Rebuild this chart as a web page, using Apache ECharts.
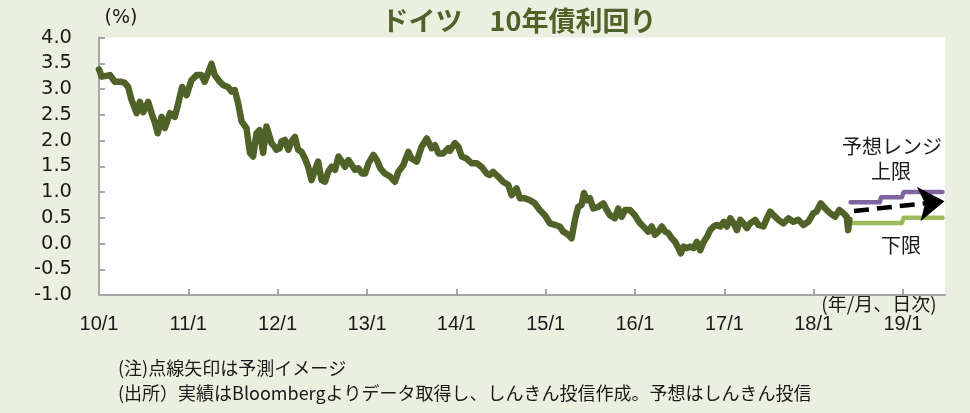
<!DOCTYPE html>
<html><head><meta charset="utf-8">
<script src="https://cdn.jsdelivr.net/npm/echarts@6/dist/echarts.min.js"></script>
<style>html,body{margin:0;padding:0;background:#ebefdf;}#c{width:970px;height:413px;}</style>
</head><body><div id="c"></div>
<script>
// ---- data ----
const dates = ["2010-01-01","2010-01-12","2010-02-15","2010-03-07","2010-04-03","2010-04-16","2010-04-30","2010-05-14","2010-06-04","2010-06-17","2010-07-01","2010-07-21","2010-08-04","2010-08-18","2010-08-29","2010-09-14","2010-09-27","2010-10-18","2010-11-07","2010-11-21","2010-12-07","2010-12-25",
"2011-01-14","2011-02-04","2011-02-24","2011-03-09","2011-03-23","2011-04-06","2011-04-19","2011-05-10","2011-05-23","2011-06-12","2011-06-27","2011-07-10","2011-07-24","2011-08-07","2011-08-27","2011-09-10","2011-09-23","2011-10-07","2011-10-20","2011-11-03","2011-11-17","2011-11-30","2011-12-07","2011-12-20","2011-12-27",
"2012-01-10","2012-01-17","2012-01-31","2012-02-14","2012-02-27","2012-03-12","2012-03-25","2012-04-08","2012-04-22","2012-05-05","2012-05-19","2012-06-02","2012-06-15","2012-06-29","2012-07-13","2012-07-26","2012-08-09","2012-08-23","2012-09-06","2012-09-20","2012-10-03","2012-10-17","2012-10-31","2012-11-13","2012-11-27","2012-12-11","2012-12-24",
"2013-01-07","2013-01-27","2013-02-10","2013-02-24","2013-03-15","2013-04-05","2013-04-25","2013-05-09","2013-05-29","2013-06-19","2013-07-02","2013-07-23","2013-08-12","2013-09-02","2013-09-22","2013-10-06","2013-10-20","2013-11-09","2013-11-29","2013-12-06","2013-12-26",
"2014-01-09","2014-01-23","2014-02-12","2014-03-04","2014-03-25","2014-04-14","2014-05-05","2014-05-18","2014-05-31","2014-06-21","2014-07-11","2014-08-01","2014-08-15","2014-09-04","2014-09-18","2014-10-08","2014-10-29","2014-11-18","2014-12-08","2014-12-29",
"2015-01-19","2015-02-08","2015-02-28","2015-03-14","2015-04-04","2015-04-17","2015-05-01","2015-05-14","2015-05-28","2015-06-07","2015-06-18","2015-07-01","2015-07-15","2015-08-04","2015-08-25","2015-09-08","2015-09-21","2015-10-11","2015-10-25","2015-11-08","2015-11-22","2015-12-12",
"2016-01-01","2016-01-21","2016-02-11","2016-02-25","2016-03-10","2016-03-23","2016-04-06","2016-04-20","2016-05-04","2016-05-17","2016-05-31","2016-06-14","2016-06-27","2016-07-07","2016-07-18","2016-07-31","2016-08-14","2016-08-28","2016-09-10","2016-09-24","2016-10-08","2016-10-22","2016-11-04","2016-11-18","2016-12-01","2016-12-15","2016-12-29",
"2017-01-11","2017-01-25","2017-02-08","2017-02-21","2017-03-07","2017-03-20","2017-04-03","2017-04-16","2017-05-07","2017-05-20","2017-06-10","2017-06-24","2017-07-07","2017-07-21","2017-08-10","2017-08-30","2017-09-20","2017-10-10","2017-10-30","2017-11-20","2017-12-10","2017-12-31",
"2018-01-13","2018-01-30","2018-02-17","2018-03-09","2018-03-29","2018-04-16","2018-05-02","2018-05-16","2018-05-22","2018-05-27"];
const yields = [3.38,3.24,3.27,3.14,3.14,3.12,3.04,2.79,2.53,2.75,2.55,2.75,2.53,2.34,2.14,2.46,2.24,2.53,2.46,2.72,3.04,2.88,
3.17,3.27,3.27,3.14,3.31,3.49,3.27,3.14,3.08,3.04,2.95,2.98,2.72,2.37,2.24,1.76,1.69,2.14,2.20,1.76,2.27,2.07,1.95,1.88,1.82,
1.85,1.98,2.01,1.82,1.98,2.07,1.82,1.78,1.65,1.49,1.23,1.43,1.59,1.23,1.20,1.39,1.49,1.43,1.69,1.59,1.49,1.62,1.52,1.43,1.46,1.36,1.36,
1.56,1.72,1.62,1.46,1.36,1.30,1.20,1.39,1.52,1.78,1.65,1.59,1.88,2.04,1.85,1.91,1.75,1.75,1.85,1.80,1.95,
1.88,1.69,1.65,1.56,1.56,1.49,1.36,1.33,1.39,1.30,1.20,1.14,0.94,1.07,0.88,0.88,0.84,0.78,0.65,0.55,
0.39,0.36,0.33,0.23,0.17,0.10,0.46,0.71,0.75,0.98,0.84,0.88,0.68,0.71,0.78,0.65,0.55,0.49,0.68,0.52,0.65,0.65,
0.55,0.40,0.30,0.23,0.33,0.17,0.23,0.33,0.23,0.20,0.10,0.03,-0.09,-0.19,-0.06,-0.09,-0.06,-0.09,0.03,-0.13,0.03,0.13,0.26,0.33,0.36,0.33,0.42,
0.33,0.49,0.39,0.26,0.46,0.39,0.30,0.39,0.46,0.36,0.33,0.49,0.62,0.55,0.46,0.39,0.49,0.42,0.46,0.36,0.42,0.59,
0.62,0.78,0.68,0.59,0.52,0.65,0.59,0.52,0.26,0.46];
const upperDates = ["2018-06-01","2018-09-28","2018-10-04","2018-12-28","2019-01-04","2019-06-12"];
const upperVals  = [0.8,0.8,0.9,0.9,1.0,1.0];
const lowerDates = ["2018-06-01","2018-12-28","2019-01-04","2019-06-12"];
const lowerVals  = [0.4,0.4,0.5,0.5];
const arrowDates = ["2018-06-15","2019-06-20"];
const arrowVals  = [0.63,0.82];
const yearTicks = ["2010-01-01","2011-01-01","2012-01-01","2013-01-01","2014-01-01","2015-01-01","2016-01-01","2017-01-01","2018-01-01","2019-01-01"];
const yMin = -1.0, yMax = 4.0, yStep = 0.5;

// ---- chart ----
const zip = (a,b)=>a.map((d,i)=>[d,b[i]]);
const ts = s => { const p = s.split('-').map(Number); return Date.UTC(p[0], p[1]-1, p[2]); };
const chart = echarts.init(document.getElementById('c'), null, {renderer:'canvas'});
const axisGray = '#a6a6a6';
const textFont = '"Noto Sans CJK JP", sans-serif';
chart.setOption({
  backgroundColor: '#ebefdf',
  animation: false,
  grid: {left: 99, right: 25, top: 37.5, bottom: 118, show: true, backgroundColor: '#ffffff', borderWidth: 0, containLabel: false},
  xAxis: {
    type: 'value', min: ts('2010-01-01'), max: ts('2019-06-22'),
    axisLine: {show: true, onZero: false, lineStyle: {color: axisGray, width: 2}},
    axisTick: {show: true, inside: true, length: 6, lineStyle: {color: axisGray, width: 2}, customValues: yearTicks.map(ts)},
    axisLabel: {customValues: yearTicks.map(ts), margin: 19, fontSize: 20, color: '#1a1a1a', fontFamily: '"Liberation Sans", sans-serif',
      formatter: v => { const d = new Date(v); return String(d.getUTCFullYear()).slice(2) + '/' + (d.getUTCMonth()+1); }},
    splitLine: {show: false}
  },
  yAxis: {
    type: 'value', min: yMin, max: yMax, interval: yStep,
    axisLine: {show: true, lineStyle: {color: axisGray, width: 2}},
    axisTick: {show: true, inside: true, length: 6, lineStyle: {color: axisGray, width: 2}},
    axisLabel: {margin: 27, fontSize: 19.5, color: '#1a1a1a', fontFamily: '"DejaVu Sans", sans-serif', formatter: v => v.toFixed(1)},
    splitLine: {show: false}
  },
  series: [
    {type: 'line', data: zip(dates.map(ts), yields), showSymbol: false, symbol: 'none',
     lineStyle: {color: '#4f6228', width: 6.5, join: 'round', cap: 'round'}, z: 3},
    {type: 'line', data: zip(upperDates.map(ts), upperVals), showSymbol: false, symbol: 'none',
     lineStyle: {color: '#8064a2', width: 4.5, cap: 'round', join: 'round'}, z: 2},
    {type: 'line', data: zip(lowerDates.map(ts), lowerVals), showSymbol: false, symbol: 'none',
     lineStyle: {color: '#9bbb59', width: 4.5, cap: 'round', join: 'round'}, z: 2},
    {type: 'lines', coordinateSystem: 'cartesian2d', polyline: false, z: 4,
     symbol: ['none', 'arrow'], symbolSize: [0, 26],
     lineStyle: {color: '#000000', width: 4.5, type: [15, 8], opacity: 1},
     data: [{coords: zip(arrowDates.map(ts), arrowVals)}]}
  ],
  graphic: [
    {type: 'text', x: 519, y: 21, style: {text: 'ドイツ　10年債利回り', font: 'bold 27px ' + textFont, fill: '#4f6228', align: 'center', verticalAlign: 'middle'}},
    {type: 'text', x: 121, y: 18, style: {text: '(%)', font: '19px "DejaVu Sans", sans-serif', fill: '#1a1a1a', align: 'center', verticalAlign: 'middle'}},
    {type: 'text', x: 892, y: 146, style: {text: '予想レンジ', font: '20px ' + textFont, fill: '#1a1a1a', align: 'center', verticalAlign: 'middle'}},
    {type: 'text', x: 891, y: 171, style: {text: '上限', font: '20px ' + textFont, fill: '#1a1a1a', align: 'center', verticalAlign: 'middle'}},
    {type: 'text', x: 901, y: 245, style: {text: '下限', font: '20px ' + textFont, fill: '#1a1a1a', align: 'center', verticalAlign: 'middle'}},
    {type: 'text', x: 879, y: 304, style: {text: '(年/月、日次)', font: '19px ' + textFont, fill: '#1a1a1a', align: 'center', verticalAlign: 'middle'}},
    {type: 'text', x: 118, y: 368, style: {text: '(注)点線矢印は予測イメージ', font: '18px ' + textFont, fill: '#1a1a1a', align: 'left', verticalAlign: 'middle'}},
    {type: 'text', x: 118, y: 393, style: {text: '(出所）実績はBloombergよりデータ取得し、しんきん投信作成。予想はしんきん投信', font: '18px ' + textFont, fill: '#1a1a1a', align: 'left', verticalAlign: 'middle'}}
  ]
});
</script></body></html>
